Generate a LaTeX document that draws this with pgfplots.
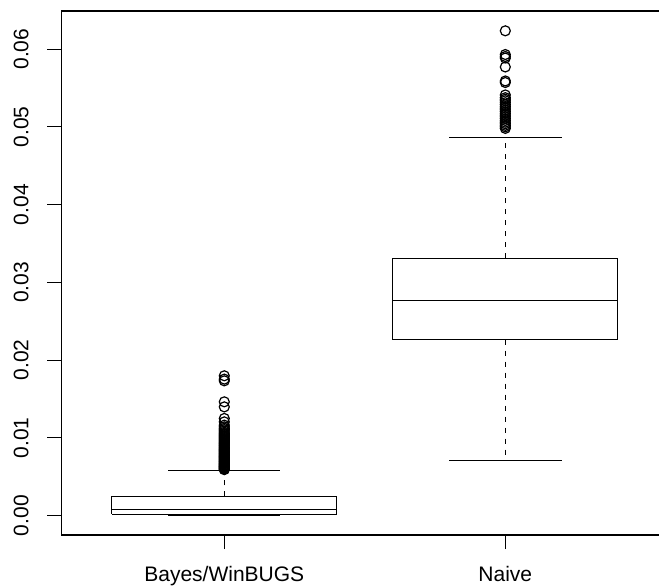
\documentclass[border=0pt]{standalone}
\usepackage{pgfplots}
\pgfplotsset{compat=1.18}
\usepackage{fontspec}
\setmainfont{Liberation Sans}

\pgfplotsset{
  boxline/.style={black, line width=1.1pt, solid, no marks},
  stem/.style={black, line width=1.1pt, no marks, dash pattern=on 5.5pt off 5.5pt},
  outl/.style={black, only marks, mark=o, mark size=5pt,
    every mark/.append style={line width=1.2pt, solid}},
}

\begin{document}
\begin{tikzpicture}
\begin{scope}
\clip (0pt,0pt) rectangle (659pt,587pt);
\begin{axis}[
  at={(61.3pt,52pt)}, anchor=south west,
  scale only axis, width=607pt, height=524pt,
  xmin=0.42, xmax=2.58,
  ymin=-0.0025, ymax=0.0649,
  axis line style={line width=1.1pt},
  xtick={1,2}, xticklabels={Bayes/WinBUGS, Naive},
  ytick={0,0.01,0.02,0.03,0.04,0.05,0.06},
  yticklabels={0.00,0.01,0.02,0.03,0.04,0.05,0.06},
  scaled y ticks=false,
  xtick pos=bottom, ytick pos=left,
  tick align=outside, major tick length=14pt,
  tick style={black, line width=1.1pt},
  tick label style={font=\fontsize{21}{24}\selectfont},
  yticklabel style={xshift=-19pt, rotate=90, anchor=base},
  xticklabel style={yshift=-32pt, anchor=base},
  clip=false,
]
% ---- Bayes/WinBUGS: whiskers 0 .. 0.00584, box 0.00017 .. 0.00248, median 0.00081
\addplot[stem] coordinates {(1,0.00248) (1,0.00584)};
\addplot[stem] coordinates {(1,0.00017) (1,0.00001)};
\addplot[boxline] coordinates {(0.8,0.00584) (1.2,0.00584)};
\addplot[boxline] coordinates {(0.8,0.00001) (1.2,0.00001)};
\addplot[boxline] coordinates {(0.6,0.00017) (1.4,0.00017) (1.4,0.00248) (0.6,0.00248) (0.6,0.00017)};
\addplot[boxline] coordinates {(0.6,0.00081) (1.4,0.00081)};
\addplot[outl] table[row sep=\\, y index=0, x expr=1] {
  y\\
  0.01798\\ 0.01755\\ 0.01733\\ 0.01463\\ 0.01398\\ 0.01249\\ 0.01205\\
  0.01163\\ 0.01141\\ 0.01122\\ 0.01105\\ 0.01089\\ 0.01072\\ 0.01058\\
  0.01043\\ 0.01030\\ 0.01016\\ 0.01003\\ 0.00990\\ 0.00978\\ 0.00965\\
  0.00953\\ 0.00941\\ 0.00930\\ 0.00918\\ 0.00907\\ 0.00896\\ 0.00885\\
  0.00874\\ 0.00864\\ 0.00853\\ 0.00843\\ 0.00833\\ 0.00823\\ 0.00813\\
  0.00803\\ 0.00794\\ 0.00784\\ 0.00775\\ 0.00766\\ 0.00757\\ 0.00748\\
  0.00739\\ 0.00730\\ 0.00721\\ 0.00712\\ 0.00703\\ 0.00695\\ 0.00686\\
  0.00678\\ 0.00670\\ 0.00662\\ 0.00654\\ 0.00646\\ 0.00638\\ 0.00631\\
  0.00624\\ 0.00617\\ 0.00610\\ 0.00603\\ 0.00597\\ 0.00591\\
  };
% ---- Naive: whiskers 0.00712 .. 0.04862, box 0.02264 .. 0.03311, median 0.02770
\addplot[stem] coordinates {(2,0.03311) (2,0.04862)};
\addplot[stem] coordinates {(2,0.02264) (2,0.00712)};
\addplot[boxline] coordinates {(1.8,0.04862) (2.2,0.04862)};
\addplot[boxline] coordinates {(1.8,0.00712) (2.2,0.00712)};
\addplot[boxline] coordinates {(1.6,0.02264) (2.4,0.02264) (2.4,0.03311) (1.6,0.03311) (1.6,0.02264)};
\addplot[boxline] coordinates {(1.6,0.02770) (2.4,0.02770)};
\addplot[outl] table[row sep=\\, y index=0, x expr=2] {
  y\\
  0.06235\\ 0.05930\\ 0.05905\\ 0.05885\\ 0.05770\\ 0.05590\\ 0.05570\\
  0.05410\\ 0.05375\\ 0.05355\\ 0.05335\\ 0.05310\\ 0.05285\\ 0.05262\\
  0.05240\\ 0.05218\\ 0.05195\\ 0.05172\\ 0.05150\\ 0.05128\\ 0.05105\\
  0.05082\\ 0.05060\\ 0.05040\\ 0.05020\\ 0.05000\\ 0.04980\\
  };
\end{axis}
\end{scope}
\pgfresetboundingbox
\useasboundingbox (0pt,0pt) rectangle (659pt,587pt);
\end{tikzpicture}
\end{document}
